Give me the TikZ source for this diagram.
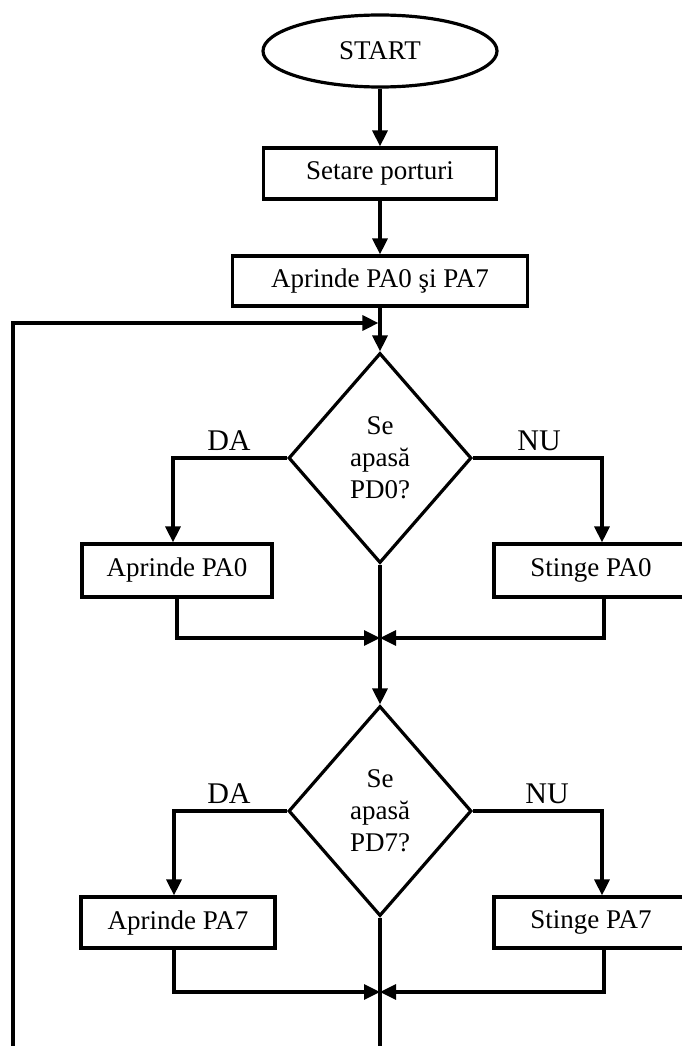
\documentclass[tikz,border=0pt]{standalone}
\usepackage{fontspec}
\setmainfont{Liberation Serif}
\usetikzlibrary{shapes.geometric,arrows.meta,calc}

\begin{document}
\begin{tikzpicture}[x=1pt,y=-1pt,
  line width=3.2pt,
  every node/.style={font=\fontsize{27}{32}\selectfont},
  term/.style={draw,ellipse,inner sep=0pt,minimum width=234pt,minimum height=72pt},
  box/.style={draw,rectangle,inner sep=0pt,minimum height=51pt},
  decision/.style={draw,diamond,inner sep=0pt,minimum width=183pt,minimum height=210pt,align=center},
  branchlabel/.style={inner sep=0pt,font=\fontsize{30}{32}\selectfont},
  flow/.style={-{Triangle[length=16pt,width=15pt]}}
]
\useasboundingbox (0,0) rectangle (682,1046);

% main column
\node[term] (start) at (380,51) {START};
\node[box,minimum width=233pt] (setup) at (380,173.5) {Setare porturi};
\node[box,minimum width=295pt,minimum height=50pt] (init) at (380,281) {Aprinde PA0 şi PA7};
\node[decision] (d1) at (380,458) {Se\\apasă\\PD0?};
\node[decision] (d2) at (380,811) {Se\\apasă\\PD7?};

% branch boxes
\node[box,minimum width=190pt,minimum height=53pt] (a0) at (177,570.5) {Aprinde PA0};
\node[box,minimum width=194pt,minimum height=53pt] (s0) at (591,570.5) {Stinge PA0};
\node[box,minimum width=194pt] (a7) at (178,922.5) {Aprinde PA7};
\node[box,minimum width=194pt] (s7) at (591,922.5) {Stinge PA7};

% branch labels
\node[branchlabel] (da1) at (229,441) {DA};
\node[branchlabel] (nu1) at (539,441) {NU};
\node[branchlabel] (da2) at (229,794) {DA};
\node[branchlabel] (nu2) at (547,794) {NU};

% junction points
\coordinate (j1) at (380,323);
\coordinate (m1) at (380,638);
\coordinate (m2) at (380,992);
\coordinate (exit) at (380,1050);
\coordinate (loop) at (13,1050);

% connectors
\draw[flow] (start) -- (setup);
\draw[flow] (setup) -- (init);
\draw[flow] (init.south) -- (d1.north);
\draw[flow] (loop) |- ([xshift=-1.6pt]j1);

\draw[flow] (d1.west) -| ($(a0.north)+(-4,0)$);
\draw[flow] (d1.east) -| ($(s0.north)+(11,0)$);
\draw[flow] (a0.south) |- (m1);
\draw[flow] ($(s0.south)+(13,0)$) |- (m1);
\draw[flow] (d1.south) -- (d2.north);

\draw[flow] (d2.west) -| ($(a7.north)+(-4,0)$);
\draw[flow] (d2.east) -| ($(s7.north)+(11,0)$);
\draw[flow] ($(a7.south)+(-4,0)$) |- (m2);
\draw[flow] ($(s7.south)+(13,0)$) |- (m2);
\draw (d2.south) -- (exit);
\end{tikzpicture}
\end{document}
